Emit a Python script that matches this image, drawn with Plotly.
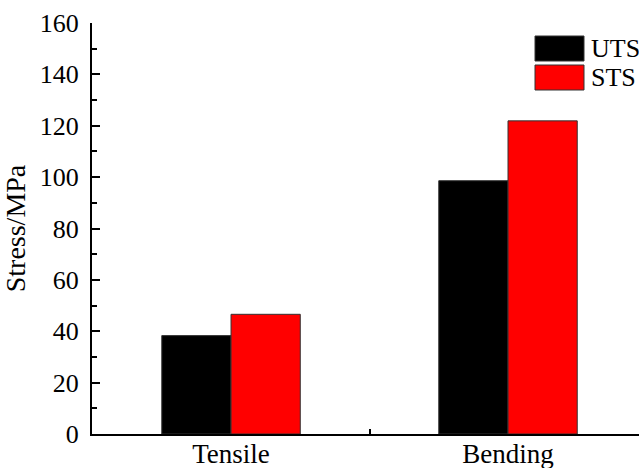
import plotly.graph_objects as go

# Test types and measured strengths (MPa)
categories = ["Tensile", "Bending"]
series_names = ["UTS", "STS"]
uts_values = [38.3, 98.6]
sts_values = [46.6, 121.9]
series_colors = ["#000000", "#ff0000"]
y_tick_values = [0, 20, 40, 60, 80, 100, 120, 140, 160]

FONT = "Liberation Serif"

# plot-area geometry in pixels (used to place the hand-drawn legend)
W, H = 639, 468
L, R, T, B = 92, 0, 23, 34
pw, ph = W - L - R, H - T - B

x_pos = list(range(len(categories)))

fig = go.Figure()
for name, vals, col in zip(series_names, [uts_values, sts_values], series_colors):
    fig.add_trace(go.Bar(
        x=x_pos, y=vals, name=name,
        marker=dict(color=col, line=dict(color="#333333", width=1)),
        showlegend=False,
    ))

# legend: filled boxes with labels, top right
def px_x(p):
    return (p - L) / pw

def px_y(p):
    return (H - B - p) / ph

box_tops = [36, 65]
for name, col, top in zip(series_names, series_colors, box_tops):
    fig.add_shape(type="rect", xref="paper", yref="paper",
                  x0=px_x(535), x1=px_x(584), y0=px_y(top + 25), y1=px_y(top),
                  fillcolor=col, line=dict(color="#333333", width=1))
    fig.add_annotation(xref="paper", yref="paper", x=px_x(589), y=px_y(top + 12.5),
                       text=name, showarrow=False, xanchor="left", yanchor="middle",
                       font=dict(family=FONT, size=26, color="black"))

fig.update_layout(
    width=W, height=H,
    margin=dict(l=L, r=R, t=T, b=B, pad=0, autoexpand=False),
    paper_bgcolor="white", plot_bgcolor="white",
    barmode="group", bargap=0.5, bargroupgap=0,
    font=dict(family=FONT, size=26, color="black"),
)

fig.update_xaxes(
    range=[-0.502, 1.473], automargin=False,
    tickmode="array", tickvals=x_pos, ticktext=categories,
    ticks="", showgrid=False, zeroline=False,
    showline=True, linecolor="black", linewidth=2,
    tickfont=dict(family=FONT, size=27, color="black"),
    ticklabelstandoff=-5,
    minor=dict(tickmode="array", tickvals=[0.5], ticks="inside",
               ticklen=5, tickwidth=2, tickcolor="black", showgrid=False),
)

fig.update_yaxes(
    range=[0, 160], automargin=False,
    tickmode="array", tickvals=y_tick_values,
    ticks="inside", ticklen=8, tickwidth=2, tickcolor="black",
    showgrid=False, zeroline=False,
    showline=True, linecolor="black", linewidth=2,
    tickfont=dict(family=FONT, size=26, color="black"),
    ticklabelstandoff=6,
    minor=dict(dtick=10, ticks="inside", ticklen=5, tickwidth=2,
               tickcolor="black", showgrid=False),
    title=dict(text="Stress/MPa", font=dict(family=FONT, size=28, color="black"),
               standoff=12),
)

fig.write_html("out.html")
